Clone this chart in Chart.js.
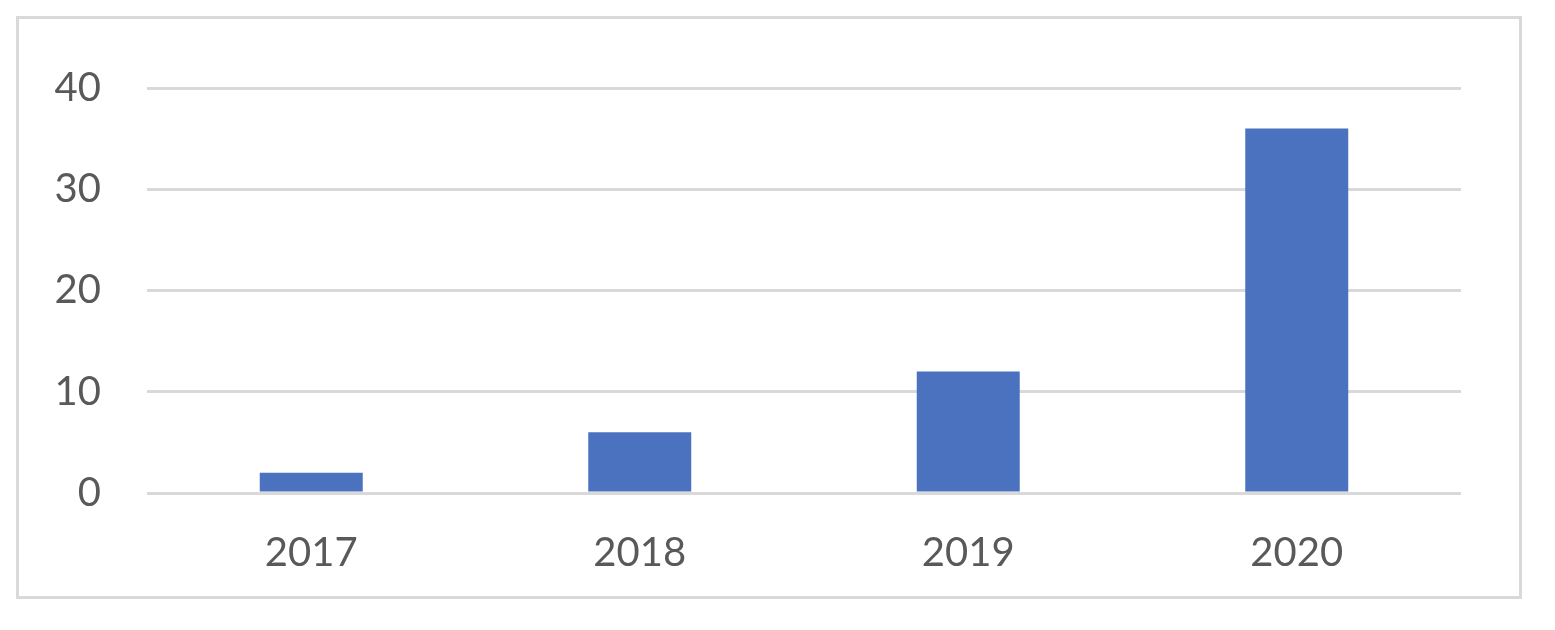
<!DOCTYPE html>
<html>
<head>
<meta charset="utf-8">
<script src="https://cdn.jsdelivr.net/npm/chart.js@4/dist/chart.umd.min.js"></script>
<style>
  html, body { margin: 0; padding: 0; background: #fff; }
  #frame { position: absolute; left: 16px; top: 16px; width: 1506px; height: 583px; box-sizing: border-box; border: 3px solid #d9d9d9; }
  #wrap { position: absolute; left: 0; top: 0; width: 1555px; height: 630px; }
</style>
</head>
<body>
<div id="frame"></div>
<div id="wrap"><canvas id="c" width="1555" height="630"></canvas></div>
<script>
const categories = ["2017", "2018", "2019", "2020"];
const values = [2, 6, 12, 36];
const yTicks = [0, 10, 20, 30, 40];

new Chart(document.getElementById('c'), {
  type: 'bar',
  data: {
    labels: categories,
    datasets: [{
      data: values,
      backgroundColor: '#4A72BE',
      borderWidth: 0,
      categoryPercentage: 1,
      barPercentage: 0.3135
    }]
  },
  options: {
    responsive: false,
    animation: false,
    devicePixelRatio: 1,
    layout: { padding: { left: 0, right: 94, top: 88, bottom: 0 } },
    plugins: { legend: { display: false }, tooltip: { enabled: false } },
    scales: {
      x: {
        grid: { display: false, drawTicks: false },
        border: { display: false },
        ticks: { color: '#595959', font: { family: 'Lato', size: 40 }, padding: 36, maxRotation: 0 },
        afterFit: (s) => { s.height = 137; }
      },
      y: {
        min: yTicks[0],
        max: yTicks[yTicks.length - 1],
        afterBuildTicks: (s) => { s.ticks = yTicks.map(v => ({ value: v })); },
        grid: { color: '#d9d9d9', lineWidth: 3, drawTicks: false },
        border: { display: false },
        ticks: { color: '#595959', font: { family: 'Lato', size: 40 }, padding: 46 },
        afterFit: (s) => { s.width = 147; }
      }
    }
  }
});
</script>
</body>
</html>
